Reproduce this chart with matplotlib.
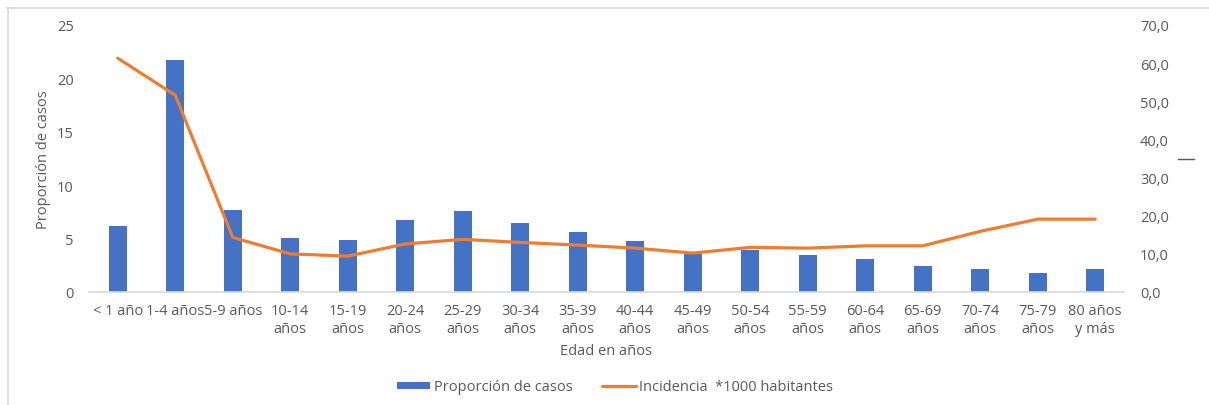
import matplotlib
matplotlib.use("Agg")
import matplotlib.pyplot as plt
from matplotlib.lines import Line2D
from matplotlib.ticker import FuncFormatter, MultipleLocator

categories = ["< 1 año", "1-4 años", "5-9 años", "10-14\naños", "15-19\naños",
              "20-24\naños", "25-29\naños", "30-34\naños", "35-39\naños",
              "40-44\naños", "45-49\naños", "50-54\naños", "55-59\naños",
              "60-64\naños", "65-69\naños", "70-74\naños", "75-79\naños",
              "80 años\ny más"]
proporcion = [6.2, 21.7, 7.7, 5.1, 4.9, 6.7, 7.55, 6.5, 5.65, 4.78, 3.6, 3.9,
              3.46, 3.09, 2.4, 2.2, 1.78, 2.2]
incidencia = [61.3, 51.6, 14.3, 10.0, 9.4, 12.6, 13.8, 13.0, 12.3, 11.5, 10.2,
              11.7, 11.5, 12.1, 12.1, 15.9, 19.1, 19.1]

plt.rcParams['font.family'] = ['Open Sans', 'DejaVu Sans']
TXT = "#595959"
BLUE = "#4472C4"
ORANGE = "#ED7D31"
FS = 10.5

W, H = 1209, 406
fig = plt.figure(figsize=(W / 100, H / 100), dpi=100)
ax = fig.add_axes([89 / W, 1 - 293 / H, (1124 - 89) / W, (293 - 26) / H])
ax2 = ax.twinx()

x = list(range(len(categories)))
bars = ax.bar(x, proporcion, width=0.32, color=BLUE, zorder=2,
              label="Proporción de casos")
line, = ax2.plot(x, incidencia, color=ORANGE, lw=2.3, solid_capstyle="round",
                 label="Incidencia  *1000 habitantes", zorder=3)

ax.set_xlim(-0.5, len(categories) - 0.5)
ax.set_ylim(0, 25)
ax2.set_ylim(0, 70)
ax.yaxis.set_major_locator(MultipleLocator(5))
ax2.yaxis.set_major_locator(MultipleLocator(10))
ax2.yaxis.set_major_formatter(FuncFormatter(lambda v, p: f"{v:.1f}".replace(".", ",")))

for a in (ax, ax2):
    for s in ("top", "right", "left", "bottom"):
        a.spines[s].set_visible(False)
ax.spines["bottom"].set_visible(True)
ax.spines["bottom"].set_color("#D9D9D9")
ax.spines["bottom"].set_linewidth(1.2)

ax.set_xticks(x)
ax.set_xticklabels(categories, fontsize=FS, color=TXT, linespacing=1.25)
ax.tick_params(axis="x", length=0, pad=8)
ax.tick_params(axis="y", length=0, labelsize=FS, labelcolor=TXT, pad=11)
ax2.tick_params(axis="y", length=0, labelsize=FS, labelcolor=TXT, pad=11.5)

ax.set_ylabel("Proporción de casos", fontsize=FS, color=TXT, labelpad=4)
ax.set_xlabel("Edad en años", fontsize=FS, color=TXT, labelpad=5)

fig.legend(handles=[bars, line], loc="center", bbox_to_anchor=(615 / W, 1 - 388 / H),
           ncol=2, frameon=False, fontsize=FS, labelcolor=TXT,
           handlelength=2.3, handleheight=0.4, handletextpad=0.25, columnspacing=2.0)

# chart frame (top and left edges) and small dash
fig.add_artist(Line2D([7 / W, 1.0], [1 - 9 / H, 1 - 9 / H], color="#D9D9D9", lw=1.2))
fig.add_artist(Line2D([7.5 / W, 7.5 / W], [0, 1 - 9 / H], color="#D9D9D9", lw=1.2))
fig.add_artist(Line2D([1178 / W, 1194 / W], [1 - 160 / H, 1 - 160 / H], color="#595959", lw=1.0))

fig.savefig("out.png", dpi=100, facecolor="white")
